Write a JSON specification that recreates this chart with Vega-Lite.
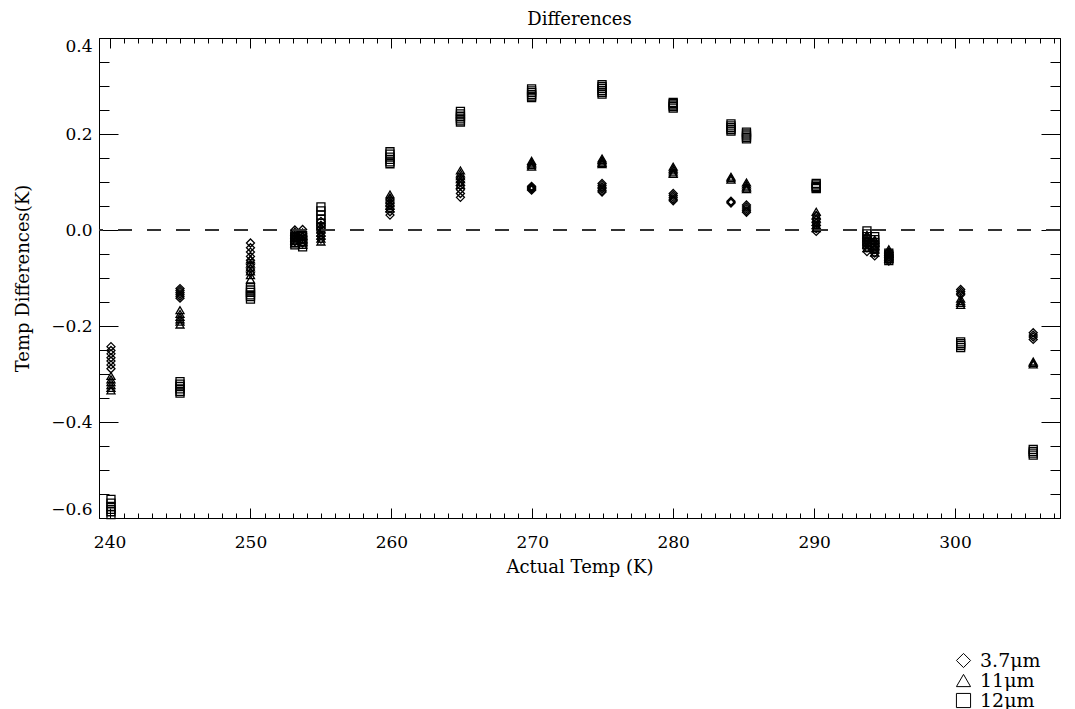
{
  "$schema": "https://vega.github.io/schema/vega-lite/v6.json",
  "autosize": {"type": "none"},
  "padding": {"left": 99, "top": 38, "right": 15, "bottom": 191},
  "width": 961,
  "height": 480,
  "background": "white",
  "title": {"text": "Differences", "fontSize": 18, "font": "DejaVu Serif", "fontWeight": "normal", "offset": 8, "color": "black", "anchor": "middle"},
  "datasets": {
    "pts": [
      {"temp": 240.1, "diff": -0.243, "band": "3.7μm"}, {"temp": 240.1, "diff": -0.251, "band": "3.7μm"}, {"temp": 240.1, "diff": -0.258, "band": "3.7μm"}, {"temp": 240.1, "diff": -0.266, "band": "3.7μm"}, {"temp": 240.1, "diff": -0.273, "band": "3.7μm"}, {"temp": 240.1, "diff": -0.281, "band": "3.7μm"}, {"temp": 240.1, "diff": -0.289, "band": "3.7μm"},
      {"temp": 240.1, "diff": -0.304, "band": "11μm"}, {"temp": 240.1, "diff": -0.311, "band": "11μm"}, {"temp": 240.1, "diff": -0.317, "band": "11μm"}, {"temp": 240.1, "diff": -0.323, "band": "11μm"}, {"temp": 240.1, "diff": -0.329, "band": "11μm"}, {"temp": 240.1, "diff": -0.334, "band": "11μm"},
      {"temp": 240.1, "diff": -0.561, "band": "12μm"}, {"temp": 240.1, "diff": -0.569, "band": "12μm"}, {"temp": 240.1, "diff": -0.576, "band": "12μm"}, {"temp": 240.1, "diff": -0.582, "band": "12μm"}, {"temp": 240.1, "diff": -0.587, "band": "12μm"}, {"temp": 240.1, "diff": -0.593, "band": "12μm"},

      {"temp": 245.0, "diff": -0.122, "band": "3.7μm"}, {"temp": 245.0, "diff": -0.126, "band": "3.7μm"}, {"temp": 245.0, "diff": -0.13, "band": "3.7μm"}, {"temp": 245.0, "diff": -0.134, "band": "3.7μm"}, {"temp": 245.0, "diff": -0.138, "band": "3.7μm"}, {"temp": 245.0, "diff": -0.142, "band": "3.7μm"},
      {"temp": 245.0, "diff": -0.167, "band": "11μm"}, {"temp": 245.0, "diff": -0.175, "band": "11μm"}, {"temp": 245.0, "diff": -0.181, "band": "11μm"}, {"temp": 245.0, "diff": -0.186, "band": "11μm"}, {"temp": 245.0, "diff": -0.191, "band": "11μm"}, {"temp": 245.0, "diff": -0.197, "band": "11μm"},
      {"temp": 245.0, "diff": -0.316, "band": "12μm"}, {"temp": 245.0, "diff": -0.321, "band": "12μm"}, {"temp": 245.0, "diff": -0.326, "band": "12μm"}, {"temp": 245.0, "diff": -0.331, "band": "12μm"}, {"temp": 245.0, "diff": -0.336, "band": "12μm"}, {"temp": 245.0, "diff": -0.34, "band": "12μm"},

      {"temp": 250.0, "diff": -0.027, "band": "3.7μm"}, {"temp": 250.0, "diff": -0.037, "band": "3.7μm"}, {"temp": 250.0, "diff": -0.046, "band": "3.7μm"}, {"temp": 250.0, "diff": -0.055, "band": "3.7μm"}, {"temp": 250.0, "diff": -0.063, "band": "3.7μm"}, {"temp": 250.0, "diff": -0.072, "band": "3.7μm"}, {"temp": 250.0, "diff": -0.081, "band": "3.7μm"}, {"temp": 250.0, "diff": -0.089, "band": "3.7μm"},
      {"temp": 250.0, "diff": -0.061, "band": "11μm"}, {"temp": 250.0, "diff": -0.07, "band": "11μm"}, {"temp": 250.0, "diff": -0.078, "band": "11μm"}, {"temp": 250.0, "diff": -0.086, "band": "11μm"}, {"temp": 250.0, "diff": -0.094, "band": "11μm"}, {"temp": 250.0, "diff": -0.103, "band": "11μm"},
      {"temp": 250.0, "diff": -0.12, "band": "12μm"}, {"temp": 250.0, "diff": -0.125, "band": "12μm"}, {"temp": 250.0, "diff": -0.13, "band": "12μm"}, {"temp": 250.0, "diff": -0.135, "band": "12μm"}, {"temp": 250.0, "diff": -0.139, "band": "12μm"}, {"temp": 250.0, "diff": -0.144, "band": "12μm"},

      {"temp": 253.15, "diff": 0.0, "band": "3.7μm"}, {"temp": 253.15, "diff": -0.006, "band": "3.7μm"}, {"temp": 253.15, "diff": -0.012, "band": "3.7μm"}, {"temp": 253.15, "diff": -0.018, "band": "3.7μm"}, {"temp": 253.15, "diff": -0.024, "band": "3.7μm"},
      {"temp": 253.15, "diff": -0.003, "band": "11μm"}, {"temp": 253.15, "diff": -0.01, "band": "11μm"}, {"temp": 253.15, "diff": -0.016, "band": "11μm"}, {"temp": 253.15, "diff": -0.022, "band": "11μm"}, {"temp": 253.15, "diff": -0.028, "band": "11μm"},
      {"temp": 253.15, "diff": -0.009, "band": "12μm"}, {"temp": 253.15, "diff": -0.015, "band": "12μm"}, {"temp": 253.15, "diff": -0.021, "band": "12μm"}, {"temp": 253.15, "diff": -0.026, "band": "12μm"}, {"temp": 253.15, "diff": -0.031, "band": "12μm"},
      {"temp": 253.7, "diff": 0.001, "band": "3.7μm"}, {"temp": 253.7, "diff": -0.007, "band": "3.7μm"}, {"temp": 253.7, "diff": -0.014, "band": "3.7μm"}, {"temp": 253.7, "diff": -0.02, "band": "3.7μm"}, {"temp": 253.7, "diff": -0.027, "band": "3.7μm"},
      {"temp": 253.7, "diff": -0.005, "band": "11μm"}, {"temp": 253.7, "diff": -0.012, "band": "11μm"}, {"temp": 253.7, "diff": -0.019, "band": "11μm"}, {"temp": 253.7, "diff": -0.025, "band": "11μm"}, {"temp": 253.7, "diff": -0.031, "band": "11μm"},
      {"temp": 253.7, "diff": -0.012, "band": "12μm"}, {"temp": 253.7, "diff": -0.019, "band": "12μm"}, {"temp": 253.7, "diff": -0.025, "band": "12μm"}, {"temp": 253.7, "diff": -0.03, "band": "12μm"}, {"temp": 253.7, "diff": -0.035, "band": "12μm"},

      {"temp": 255.0, "diff": 0.018, "band": "3.7μm"}, {"temp": 255.0, "diff": 0.01, "band": "3.7μm"}, {"temp": 255.0, "diff": 0.003, "band": "3.7μm"}, {"temp": 255.0, "diff": -0.005, "band": "3.7μm"}, {"temp": 255.0, "diff": -0.012, "band": "3.7μm"}, {"temp": 255.0, "diff": -0.019, "band": "3.7μm"},
      {"temp": 255.0, "diff": 0.008, "band": "11μm"}, {"temp": 255.0, "diff": 0.001, "band": "11μm"}, {"temp": 255.0, "diff": -0.006, "band": "11μm"}, {"temp": 255.0, "diff": -0.012, "band": "11μm"}, {"temp": 255.0, "diff": -0.018, "band": "11μm"}, {"temp": 255.0, "diff": -0.024, "band": "11μm"},
      {"temp": 255.0, "diff": 0.048, "band": "12μm"}, {"temp": 255.0, "diff": 0.04, "band": "12μm"}, {"temp": 255.0, "diff": 0.031, "band": "12μm"}, {"temp": 255.0, "diff": 0.022, "band": "12μm"}, {"temp": 255.0, "diff": 0.014, "band": "12μm"}, {"temp": 255.0, "diff": 0.006, "band": "12μm"},

      {"temp": 259.9, "diff": 0.064, "band": "3.7μm"}, {"temp": 259.9, "diff": 0.057, "band": "3.7μm"}, {"temp": 259.9, "diff": 0.051, "band": "3.7μm"}, {"temp": 259.9, "diff": 0.044, "band": "3.7μm"}, {"temp": 259.9, "diff": 0.038, "band": "3.7μm"}, {"temp": 259.9, "diff": 0.031, "band": "3.7μm"},
      {"temp": 259.9, "diff": 0.074, "band": "11μm"}, {"temp": 259.9, "diff": 0.068, "band": "11μm"}, {"temp": 259.9, "diff": 0.062, "band": "11μm"}, {"temp": 259.9, "diff": 0.056, "band": "11μm"}, {"temp": 259.9, "diff": 0.05, "band": "11μm"}, {"temp": 259.9, "diff": 0.045, "band": "11μm"},
      {"temp": 259.9, "diff": 0.163, "band": "12μm"}, {"temp": 259.9, "diff": 0.158, "band": "12μm"}, {"temp": 259.9, "diff": 0.152, "band": "12μm"}, {"temp": 259.9, "diff": 0.147, "band": "12μm"}, {"temp": 259.9, "diff": 0.142, "band": "12μm"}, {"temp": 259.9, "diff": 0.138, "band": "12μm"},

      {"temp": 264.9, "diff": 0.108, "band": "3.7μm"}, {"temp": 264.9, "diff": 0.1, "band": "3.7μm"}, {"temp": 264.9, "diff": 0.092, "band": "3.7μm"}, {"temp": 264.9, "diff": 0.084, "band": "3.7μm"}, {"temp": 264.9, "diff": 0.076, "band": "3.7μm"}, {"temp": 264.9, "diff": 0.068, "band": "3.7μm"},
      {"temp": 264.9, "diff": 0.124, "band": "11μm"}, {"temp": 264.9, "diff": 0.118, "band": "11μm"}, {"temp": 264.9, "diff": 0.112, "band": "11μm"}, {"temp": 264.9, "diff": 0.106, "band": "11μm"}, {"temp": 264.9, "diff": 0.1, "band": "11μm"}, {"temp": 264.9, "diff": 0.094, "band": "11μm"},
      {"temp": 264.9, "diff": 0.247, "band": "12μm"}, {"temp": 264.9, "diff": 0.242, "band": "12μm"}, {"temp": 264.9, "diff": 0.237, "band": "12μm"}, {"temp": 264.9, "diff": 0.233, "band": "12μm"}, {"temp": 264.9, "diff": 0.229, "band": "12μm"}, {"temp": 264.9, "diff": 0.225, "band": "12μm"},

      {"temp": 269.95, "diff": 0.091, "band": "3.7μm"}, {"temp": 269.95, "diff": 0.089, "band": "3.7μm"}, {"temp": 269.95, "diff": 0.087, "band": "3.7μm"}, {"temp": 269.95, "diff": 0.085, "band": "3.7μm"}, {"temp": 269.95, "diff": 0.083, "band": "3.7μm"},
      {"temp": 269.95, "diff": 0.144, "band": "11μm"}, {"temp": 269.95, "diff": 0.141, "band": "11μm"}, {"temp": 269.95, "diff": 0.138, "band": "11μm"}, {"temp": 269.95, "diff": 0.135, "band": "11μm"}, {"temp": 269.95, "diff": 0.132, "band": "11μm"},
      {"temp": 269.95, "diff": 0.294, "band": "12μm"}, {"temp": 269.95, "diff": 0.29, "band": "12μm"}, {"temp": 269.95, "diff": 0.286, "band": "12μm"}, {"temp": 269.95, "diff": 0.282, "band": "12μm"}, {"temp": 269.95, "diff": 0.279, "band": "12μm"}, {"temp": 269.95, "diff": 0.276, "band": "12μm"},

      {"temp": 274.95, "diff": 0.097, "band": "3.7μm"}, {"temp": 274.95, "diff": 0.093, "band": "3.7μm"}, {"temp": 274.95, "diff": 0.089, "band": "3.7μm"}, {"temp": 274.95, "diff": 0.086, "band": "3.7μm"}, {"temp": 274.95, "diff": 0.082, "band": "3.7μm"}, {"temp": 274.95, "diff": 0.079, "band": "3.7μm"},
      {"temp": 274.95, "diff": 0.149, "band": "11μm"}, {"temp": 274.95, "diff": 0.146, "band": "11μm"}, {"temp": 274.95, "diff": 0.143, "band": "11μm"}, {"temp": 274.95, "diff": 0.14, "band": "11μm"}, {"temp": 274.95, "diff": 0.137, "band": "11μm"},
      {"temp": 274.95, "diff": 0.303, "band": "12μm"}, {"temp": 274.95, "diff": 0.299, "band": "12μm"}, {"temp": 274.95, "diff": 0.295, "band": "12μm"}, {"temp": 274.95, "diff": 0.291, "band": "12μm"}, {"temp": 274.95, "diff": 0.287, "band": "12μm"}, {"temp": 274.95, "diff": 0.283, "band": "12μm"},

      {"temp": 280.0, "diff": 0.076, "band": "3.7μm"}, {"temp": 280.0, "diff": 0.072, "band": "3.7μm"}, {"temp": 280.0, "diff": 0.068, "band": "3.7μm"}, {"temp": 280.0, "diff": 0.064, "band": "3.7μm"}, {"temp": 280.0, "diff": 0.061, "band": "3.7μm"},
      {"temp": 280.0, "diff": 0.132, "band": "11μm"}, {"temp": 280.0, "diff": 0.128, "band": "11μm"}, {"temp": 280.0, "diff": 0.124, "band": "11μm"}, {"temp": 280.0, "diff": 0.12, "band": "11μm"}, {"temp": 280.0, "diff": 0.117, "band": "11μm"},
      {"temp": 280.0, "diff": 0.266, "band": "12μm"}, {"temp": 280.0, "diff": 0.263, "band": "12μm"}, {"temp": 280.0, "diff": 0.26, "band": "12μm"}, {"temp": 280.0, "diff": 0.257, "band": "12μm"}, {"temp": 280.0, "diff": 0.254, "band": "12μm"},

      {"temp": 284.1, "diff": 0.06, "band": "3.7μm"}, {"temp": 284.1, "diff": 0.058, "band": "3.7μm"}, {"temp": 284.1, "diff": 0.056, "band": "3.7μm"},
      {"temp": 284.1, "diff": 0.111, "band": "11μm"}, {"temp": 284.1, "diff": 0.108, "band": "11μm"}, {"temp": 284.1, "diff": 0.105, "band": "11μm"},
      {"temp": 284.1, "diff": 0.221, "band": "12μm"}, {"temp": 284.1, "diff": 0.217, "band": "12μm"}, {"temp": 284.1, "diff": 0.213, "band": "12μm"}, {"temp": 284.1, "diff": 0.209, "band": "12μm"}, {"temp": 284.1, "diff": 0.206, "band": "12μm"},

      {"temp": 285.2, "diff": 0.052, "band": "3.7μm"}, {"temp": 285.2, "diff": 0.048, "band": "3.7μm"}, {"temp": 285.2, "diff": 0.044, "band": "3.7μm"}, {"temp": 285.2, "diff": 0.04, "band": "3.7μm"}, {"temp": 285.2, "diff": 0.037, "band": "3.7μm"},
      {"temp": 285.2, "diff": 0.099, "band": "11μm"}, {"temp": 285.2, "diff": 0.095, "band": "11μm"}, {"temp": 285.2, "diff": 0.091, "band": "11μm"}, {"temp": 285.2, "diff": 0.088, "band": "11μm"}, {"temp": 285.2, "diff": 0.085, "band": "11μm"},
      {"temp": 285.2, "diff": 0.204, "band": "12μm"}, {"temp": 285.2, "diff": 0.2, "band": "12μm"}, {"temp": 285.2, "diff": 0.196, "band": "12μm"}, {"temp": 285.2, "diff": 0.193, "band": "12μm"}, {"temp": 285.2, "diff": 0.19, "band": "12μm"},

      {"temp": 290.15, "diff": 0.03, "band": "3.7μm"}, {"temp": 290.15, "diff": 0.022, "band": "3.7μm"}, {"temp": 290.15, "diff": 0.015, "band": "3.7μm"}, {"temp": 290.15, "diff": 0.009, "band": "3.7μm"}, {"temp": 290.15, "diff": 0.003, "band": "3.7μm"}, {"temp": 290.15, "diff": -0.003, "band": "3.7μm"},
      {"temp": 290.15, "diff": 0.038, "band": "11μm"}, {"temp": 290.15, "diff": 0.031, "band": "11μm"}, {"temp": 290.15, "diff": 0.024, "band": "11μm"}, {"temp": 290.15, "diff": 0.017, "band": "11μm"}, {"temp": 290.15, "diff": 0.01, "band": "11μm"}, {"temp": 290.15, "diff": 0.004, "band": "11μm"},
      {"temp": 290.15, "diff": 0.097, "band": "12μm"}, {"temp": 290.15, "diff": 0.094, "band": "12μm"}, {"temp": 290.15, "diff": 0.091, "band": "12μm"}, {"temp": 290.15, "diff": 0.088, "band": "12μm"}, {"temp": 290.15, "diff": 0.086, "band": "12μm"},

      {"temp": 293.75, "diff": -0.015, "band": "3.7μm"}, {"temp": 293.75, "diff": -0.022, "band": "3.7μm"}, {"temp": 293.75, "diff": -0.03, "band": "3.7μm"}, {"temp": 293.75, "diff": -0.037, "band": "3.7μm"}, {"temp": 293.75, "diff": -0.045, "band": "3.7μm"},
      {"temp": 293.75, "diff": -0.01, "band": "11μm"}, {"temp": 293.75, "diff": -0.017, "band": "11μm"}, {"temp": 293.75, "diff": -0.024, "band": "11μm"}, {"temp": 293.75, "diff": -0.031, "band": "11μm"}, {"temp": 293.75, "diff": -0.038, "band": "11μm"},
      {"temp": 293.75, "diff": -0.002, "band": "12μm"}, {"temp": 293.75, "diff": -0.008, "band": "12μm"}, {"temp": 293.75, "diff": -0.014, "band": "12μm"}, {"temp": 293.75, "diff": -0.02, "band": "12μm"}, {"temp": 293.75, "diff": -0.026, "band": "12μm"}, {"temp": 293.75, "diff": -0.031, "band": "12μm"},
      {"temp": 294.3, "diff": -0.025, "band": "3.7μm"}, {"temp": 294.3, "diff": -0.033, "band": "3.7μm"}, {"temp": 294.3, "diff": -0.041, "band": "3.7μm"}, {"temp": 294.3, "diff": -0.048, "band": "3.7μm"}, {"temp": 294.3, "diff": -0.054, "band": "3.7μm"},
      {"temp": 294.3, "diff": -0.02, "band": "11μm"}, {"temp": 294.3, "diff": -0.027, "band": "11μm"}, {"temp": 294.3, "diff": -0.034, "band": "11μm"}, {"temp": 294.3, "diff": -0.041, "band": "11μm"}, {"temp": 294.3, "diff": -0.047, "band": "11μm"},
      {"temp": 294.3, "diff": -0.014, "band": "12μm"}, {"temp": 294.3, "diff": -0.02, "band": "12μm"}, {"temp": 294.3, "diff": -0.026, "band": "12μm"}, {"temp": 294.3, "diff": -0.032, "band": "12μm"}, {"temp": 294.3, "diff": -0.038, "band": "12μm"},

      {"temp": 295.3, "diff": -0.046, "band": "3.7μm"}, {"temp": 295.3, "diff": -0.051, "band": "3.7μm"}, {"temp": 295.3, "diff": -0.056, "band": "3.7μm"}, {"temp": 295.3, "diff": -0.061, "band": "3.7μm"}, {"temp": 295.3, "diff": -0.065, "band": "3.7μm"},
      {"temp": 295.3, "diff": -0.04, "band": "11μm"}, {"temp": 295.3, "diff": -0.045, "band": "11μm"}, {"temp": 295.3, "diff": -0.05, "band": "11μm"}, {"temp": 295.3, "diff": -0.055, "band": "11μm"}, {"temp": 295.3, "diff": -0.06, "band": "11μm"},
      {"temp": 295.3, "diff": -0.048, "band": "12μm"}, {"temp": 295.3, "diff": -0.052, "band": "12μm"}, {"temp": 295.3, "diff": -0.056, "band": "12μm"}, {"temp": 295.3, "diff": -0.06, "band": "12μm"}, {"temp": 295.3, "diff": -0.064, "band": "12μm"},

      {"temp": 300.4, "diff": -0.124, "band": "3.7μm"}, {"temp": 300.4, "diff": -0.128, "band": "3.7μm"}, {"temp": 300.4, "diff": -0.132, "band": "3.7μm"}, {"temp": 300.4, "diff": -0.135, "band": "3.7μm"},
      {"temp": 300.4, "diff": -0.143, "band": "11μm"}, {"temp": 300.4, "diff": -0.148, "band": "11μm"}, {"temp": 300.4, "diff": -0.152, "band": "11μm"}, {"temp": 300.4, "diff": -0.156, "band": "11μm"},
      {"temp": 300.4, "diff": -0.233, "band": "12μm"}, {"temp": 300.4, "diff": -0.237, "band": "12μm"}, {"temp": 300.4, "diff": -0.241, "band": "12μm"}, {"temp": 300.4, "diff": -0.245, "band": "12μm"},

      {"temp": 305.55, "diff": -0.214, "band": "3.7μm"}, {"temp": 305.55, "diff": -0.219, "band": "3.7μm"}, {"temp": 305.55, "diff": -0.223, "band": "3.7μm"}, {"temp": 305.55, "diff": -0.228, "band": "3.7μm"},
      {"temp": 305.55, "diff": -0.274, "band": "11μm"}, {"temp": 305.55, "diff": -0.277, "band": "11μm"}, {"temp": 305.55, "diff": -0.28, "band": "11μm"},
      {"temp": 305.55, "diff": -0.457, "band": "12μm"}, {"temp": 305.55, "diff": -0.461, "band": "12μm"}, {"temp": 305.55, "diff": -0.465, "band": "12μm"}, {"temp": 305.55, "diff": -0.469, "band": "12μm"}
    ]
  },
  "data": {"name": "pts"},
  "layer": [
    {
      "mark": {"type": "point", "filled": false, "color": "black", "strokeWidth": 1.3, "size": 64, "opacity": 1},
      "encoding": {
        "x": {"field": "temp", "type": "quantitative", "scale": {"domain": [239.25, 307.45], "nice": false, "zero": false},
              "axis": {"orient": "bottom", "values": [240, 250, 260, 270, 280, 290, 300], "format": "d", "tickSize": -10, "labelPadding": 26, "labelFlush": true, "title": "Actual Temp (K)", "titlePadding": 8, "domain": true}},
        "y": {"field": "diff", "type": "quantitative", "scale": {"domain": [-0.6, 0.4], "nice": false, "zero": false},
              "axis": {"orient": "left", "values": [-0.6, -0.4, -0.2, 0, 0.2, 0.4], "format": ".1f", "tickSize": -19, "labelPadding": 26, "labelFlush": true, "title": "Temp Differences(K)", "titlePadding": 18, "domain": true}},
        "shape": {"field": "band", "type": "nominal",
                  "scale": {"domain": ["3.7μm", "11μm", "12μm"], "range": ["diamond", "triangle-up", "square"]},
                  "legend": {"title": null, "orient": "none", "legendX": 855, "legendY": 613, "direction": "vertical", "labelFontSize": 19, "labelFont": "DejaVu Serif", "labelColor": "black", "symbolSize": 200, "symbolStrokeWidth": 1, "symbolStrokeColor": "black", "rowPadding": 0, "labelOffset": 7, "padding": 0}}
      }
    },
    {
      "mark": {"type": "rule", "strokeDash": [14, 15], "color": "#333333", "strokeWidth": 1},
      "encoding": {
        "y": {"datum": 0, "type": "quantitative", "scale": {"domain": [-0.6, 0.4], "nice": false, "zero": false},
              "axis": {"orient": "left", "values": [-0.6, -0.55, -0.5, -0.45, -0.4, -0.35, -0.3, -0.25, -0.2, -0.15, -0.1, -0.05, 0, 0.05, 0.1, 0.15, 0.2, 0.25, 0.3, 0.35, 0.4], "tickSize": -10, "labels": false, "title": null, "domain": false}}
      }
    },
    {
      "mark": {"type": "point", "opacity": 0},
      "encoding": {
        "x": {"field": "temp", "type": "quantitative", "scale": {"domain": [239.25, 307.45], "nice": false, "zero": false},
              "axis": {"orient": "bottom", "values": [240, 241, 242, 243, 244, 245, 246, 247, 248, 249, 250, 251, 252, 253, 254, 255, 256, 257, 258, 259, 260, 261, 262, 263, 264, 265, 266, 267, 268, 269, 270, 271, 272, 273, 274, 275, 276, 277, 278, 279, 280, 281, 282, 283, 284, 285, 286, 287, 288, 289, 290, 291, 292, 293, 294, 295, 296, 297, 298, 299, 300, 301, 302, 303, 304, 305, 306, 307], "tickSize": -5, "labels": false, "title": null, "domain": false}},
        "y": {"field": "diff", "type": "quantitative", "scale": {"domain": [-0.6, 0.4], "nice": false, "zero": false},
              "axis": {"orient": "right", "values": [-0.6, -0.4, -0.2, 0, 0.2, 0.4], "tickSize": -19, "labels": false, "title": null, "domain": true}}
      }
    },
    {
      "mark": {"type": "point", "opacity": 0},
      "encoding": {
        "x": {"field": "temp", "type": "quantitative", "scale": {"domain": [239.25, 307.45], "nice": false, "zero": false},
              "axis": {"orient": "top", "values": [240, 250, 260, 270, 280, 290, 300], "tickSize": -10, "labels": false, "title": null, "domain": true}},
        "y": {"field": "diff", "type": "quantitative", "scale": {"domain": [-0.6, 0.4], "nice": false, "zero": false},
              "axis": {"orient": "right", "values": [-0.6, -0.55, -0.5, -0.45, -0.4, -0.35, -0.3, -0.25, -0.2, -0.15, -0.1, -0.05, 0, 0.05, 0.1, 0.15, 0.2, 0.25, 0.3, 0.35, 0.4], "tickSize": -10, "labels": false, "title": null, "domain": false}}
      }
    },
    {
      "mark": {"type": "point", "opacity": 0},
      "encoding": {
        "x": {"field": "temp", "type": "quantitative", "scale": {"domain": [239.25, 307.45], "nice": false, "zero": false},
              "axis": {"orient": "top", "values": [240, 241, 242, 243, 244, 245, 246, 247, 248, 249, 250, 251, 252, 253, 254, 255, 256, 257, 258, 259, 260, 261, 262, 263, 264, 265, 266, 267, 268, 269, 270, 271, 272, 273, 274, 275, 276, 277, 278, 279, 280, 281, 282, 283, 284, 285, 286, 287, 288, 289, 290, 291, 292, 293, 294, 295, 296, 297, 298, 299, 300, 301, 302, 303, 304, 305, 306, 307], "tickSize": -5, "labels": false, "title": null, "domain": false}},
        "y": {"field": "diff", "type": "quantitative", "scale": {"domain": [-0.6, 0.4], "nice": false, "zero": false}, "axis": null}
      }
    }
  ],
  "resolve": {"axis": {"x": "independent", "y": "independent"}},
  "config": {
    "view": {"stroke": null},
    "axis": {"grid": false, "domainColor": "black", "tickColor": "black", "labelColor": "black", "titleColor": "black", "labelFont": "DejaVu Serif", "titleFont": "DejaVu Serif", "labelFontSize": 17, "titleFontSize": 18, "titleFontWeight": "normal", "tickWidth": 1, "domainWidth": 1}
  }
}
